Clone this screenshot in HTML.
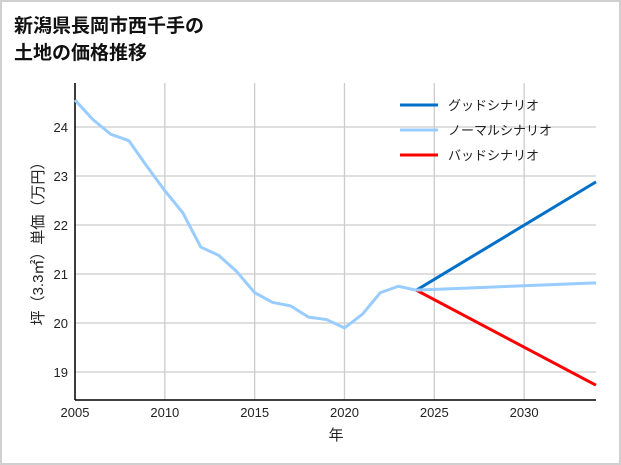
<!DOCTYPE html>
<html><head><meta charset="utf-8"><style>
body{margin:0;background:#fff}
#wrap{position:relative;width:617px;height:461px;border:2px solid #d0d0d0;background:#fff;font-family:"Liberation Sans","Noto Sans CJK JP",sans-serif}
</style></head><body>
<div id="wrap">
<svg id="c" width="617" height="461" style="position:absolute;left:0;top:0"></svg>
</div>
<script>
const years=[2005,2006,2007,2008,2009,2010,2011,2012,2013,2014,2015,2016,2017,2018,2019,2020,2021,2022,2023,2024];
const prices=[24.55,24.15,23.85,23.72,23.2,22.7,22.25,21.55,21.38,21.05,20.62,20.42,20.35,20.12,20.07,19.9,20.18,20.62,20.75,20.67];
const scenarioYears=[2024,2034];
const goodValues=[20.67,22.88];
const normalValues=[20.67,20.82];
const badValues=[20.67,18.73];
const xTicks=[2005,2010,2015,2020,2025,2030];
const yTicks=[19,20,21,22,23,24];
const legendLabels=["グッドシナリオ","ノーマルシナリオ","バッドシナリオ"];
const legendColors=["#0070c8","#99ccff","#ff0000"];

const NS="http://www.w3.org/2000/svg";
const svg=document.getElementById('c');
const ox=-2,oy=-2; // offset due to border
const X0=75,X1=596,Y0=83,Y1=400;
const xs=y=>ox+X0+(y-2005)*(X1-X0)/(2034-2005);
const ys=v=>oy+127+(24-v)*49;
function el(t,a){const e=document.createElementNS(NS,t);for(const k in a)e.setAttribute(k,a[k]);svg.appendChild(e);return e;}

let t=el('text',{x:12,y:30,'font-size':19,'font-weight':'bold',fill:'#111'});t.textContent='新潟県長岡市西千手の';

t=el('text',{x:12,y:57,'font-size':19,'font-weight':'bold',fill:'#111'});t.textContent='土地の価格推移';


xTicks.forEach(v=>{const x=xs(v);
 let g=el('line',{x1:x,x2:x,y1:oy+Y0,y2:oy+Y1,stroke:'#cccccc','stroke-width':1.3});
 
 let l=el('text',{x:x,y:oy+Y1+17,'font-size':13,'text-anchor':'middle',fill:'#222'});l.textContent=v;
 });
yTicks.forEach(v=>{const y=ys(v);
 let g=el('line',{x1:ox+X0,x2:ox+X1,y1:y,y2:y,stroke:'#cccccc','stroke-width':1.3});
 
 let l=el('text',{x:ox+X0-7,y:y+5,'font-size':13,'text-anchor':'end',fill:'#222'});l.textContent=v;
 });

let a=el('line',{x1:ox+X0,x2:ox+X0,y1:oy+Y0,y2:oy+Y1,stroke:'#000','stroke-width':1.5});

a=el('line',{x1:ox+X0,x2:ox+X1,y1:oy+Y1,y2:oy+Y1,stroke:'#000','stroke-width':1.5});


t=el('text',{x:ox+336,y:oy+440,'font-size':15,'text-anchor':'middle',fill:'#222'});t.textContent='年';

t=el('text',{x:0,y:0,'font-size':15,'text-anchor':'middle',fill:'#222',transform:`translate(${ox+43},${oy+240}) rotate(-90)`});t.textContent='坪（3.3㎡）単価（万円）';


function line(xv,yv,color,name){const p=el('polyline',{points:xv.map((x,i)=>xs(x)+','+ys(yv[i])).join(' '),fill:'none',stroke:color,'stroke-width':3,'stroke-linejoin':'round'});
 }
line(scenarioYears,goodValues,legendColors[0],'good-scenario-line');
line(scenarioYears,badValues,legendColors[2],'bad-scenario-line');
line(scenarioYears,normalValues,legendColors[1],'normal-scenario-line');
line(years,prices,legendColors[1],'historical-price-line');

legendLabels.forEach((lab,i)=>{const y=oy+105+i*25;
 let s=el('line',{x1:ox+400,x2:ox+438,y1:y,y2:y,stroke:legendColors[i],'stroke-width':3});
 
 let l=el('text',{x:ox+448,y:y+5,'font-size':13,fill:'#222'});l.textContent=lab;
 });
</script>
</body></html>
